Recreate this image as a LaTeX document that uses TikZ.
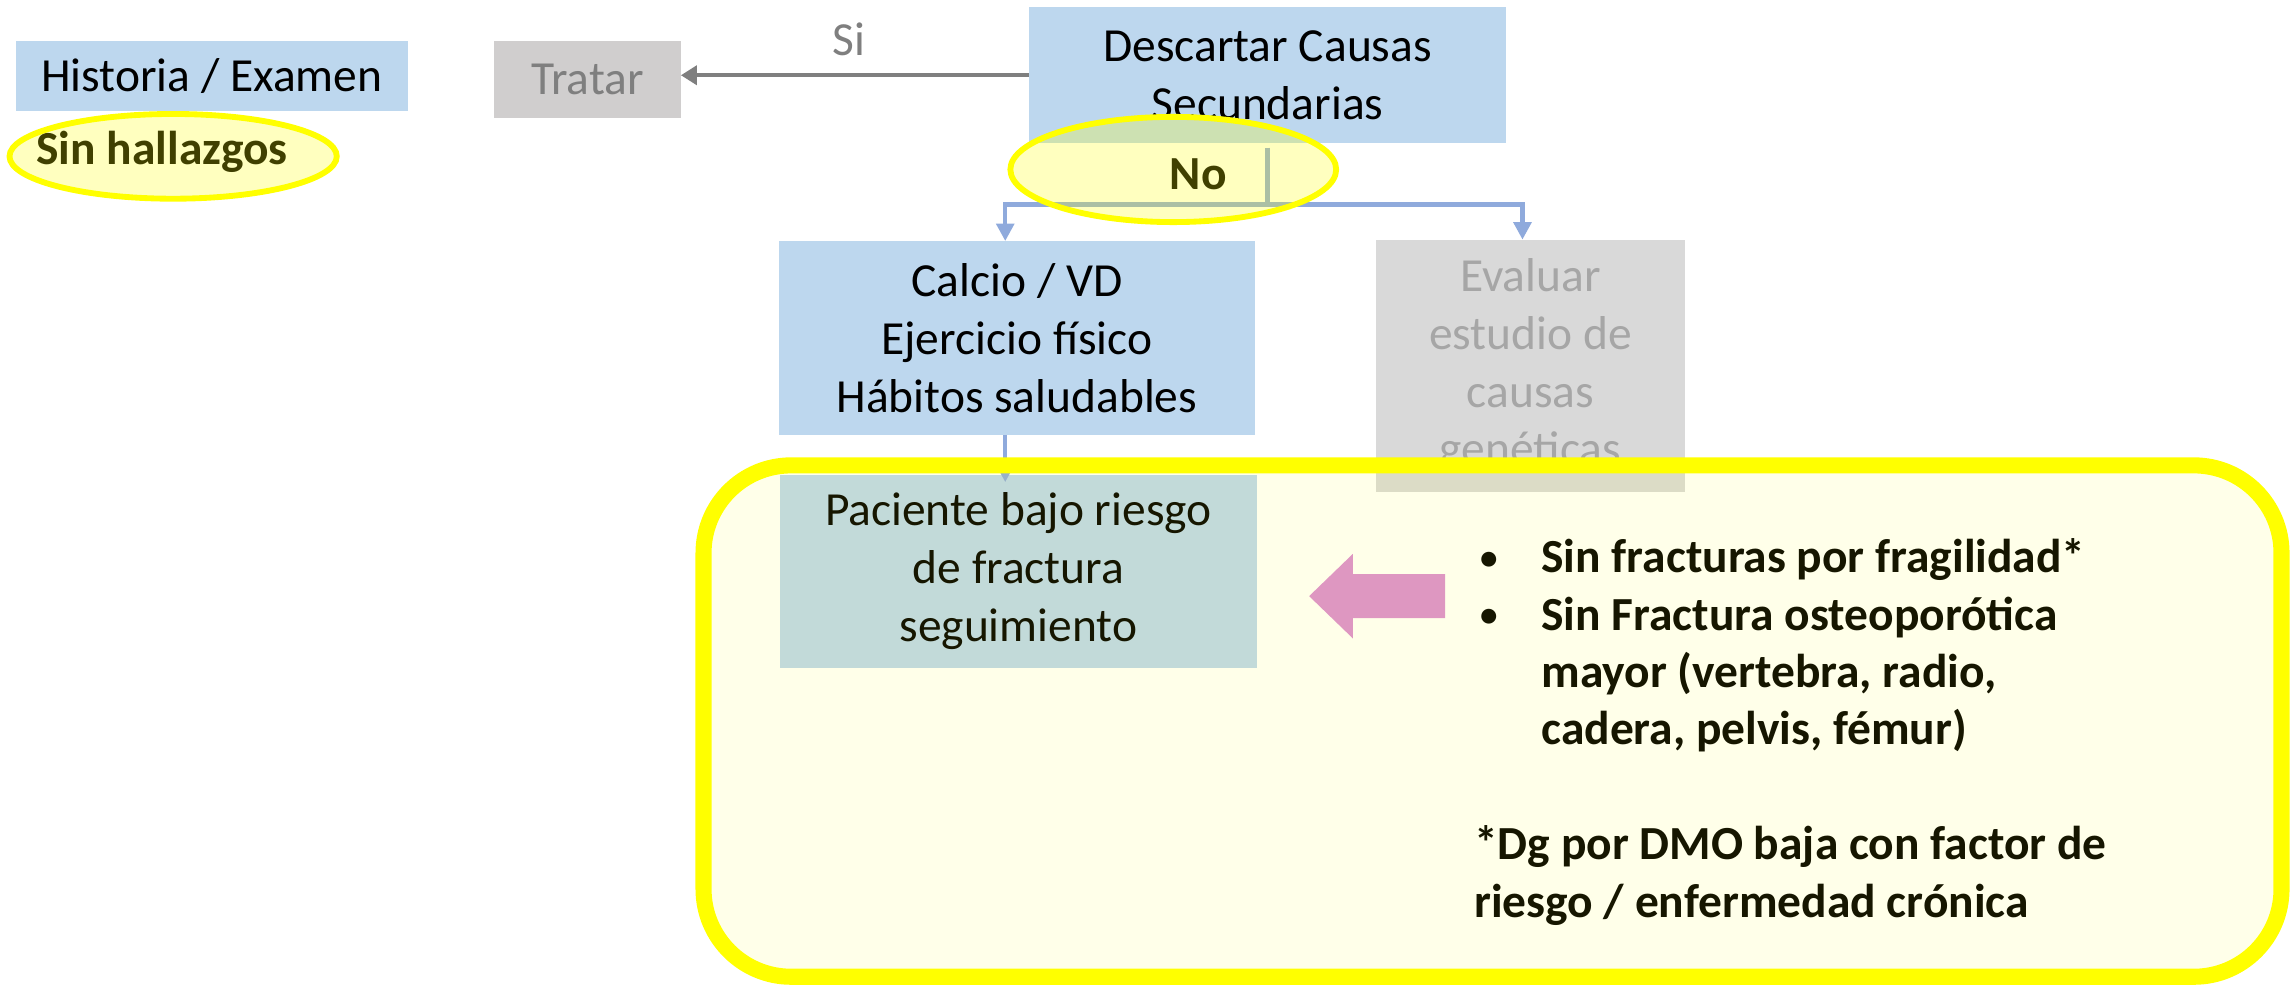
\documentclass[tikz,border=0pt]{standalone}
\usepackage{fontspec}
\setmainfont{Carlito}
\usetikzlibrary{arrows.meta,shapes.geometric}
\definecolor{boxblue}{HTML}{BDD7EE}
\definecolor{boxgray}{HTML}{D0CECE}
\definecolor{boxgrayB}{HTML}{D9D9D9}
\definecolor{txtgray}{HTML}{7F7F7F}
\definecolor{txtgrayB}{HTML}{A6A6A6}
\definecolor{connblue}{HTML}{8FAADC}
\definecolor{hiyellow}{HTML}{FFFF00}
\definecolor{pinkarrow}{HTML}{DE97C1}
\newcommand{\mybul}{\makebox[46pt][l]{\hspace{4pt}\raisebox{2.5pt}{\fontsize{24}{24}\selectfont •}}}
\begin{document}
\begin{tikzpicture}[x=1pt,y=-1pt,
  every node/.style={font=\fontsize{32.5}{39.5}\selectfont, inner sep=0pt, outer sep=0pt},
  boldtxt/.style={font=\fontsize{32.5}{39.3}\selectfont\bfseries},
  stepbox/.style={rectangle, align=center, fill=boxblue},
  conn/.style={draw=connblue, line width=3},
  conntip/.style={-{Triangle[length=12,width=12]}},
  hiell/.style={ellipse, draw=hiyellow, line width=4, fill=hiyellow, fill opacity=0.25}]
\useasboundingbox (0,0) rectangle (1568,675);

% top left
\node[stepbox, minimum width=268, minimum height=48] (historia) at (145,52) {Historia / Examen};
\node[boldtxt, anchor=west] (sinh) at (25,104) {Sin hallazgos};
\node[hiell, minimum width=224, minimum height=58] (sinhell) at (118.5,107) {};

% Tratar
\node[rectangle, fill=boxgray, text=txtgray, minimum width=128, minimum height=53] (tratar) at (402,54.5) {Tratar};
\node[text=txtgray] (si) at (581,27) {Si};

% Descartar
\node[stepbox, minimum width=327, minimum height=93] (descartar) at (867.5,51.5) {Descartar Causas\\Secundarias};
\draw[draw=txtgray, line width=3, -{Triangle[length=11,width=13]}] (descartar.west) -- (descartar.west -| tratar.east);

% connectors
\coordinate (jM) at (867.5,140);
\coordinate (jL) at (688,140);
\coordinate (jR) at (1042,140);

% Calcio and Evaluar
\node[stepbox, minimum width=326, minimum height=133] (calcio) at (696,231.5) {Calcio / VD\\Ejercicio físico\\Hábitos saludables};
\node[rectangle, align=center, fill=boxgrayB, text=txtgrayB, minimum width=211, minimum height=173] (evaluar) at (1047.5,250.5) {Evaluar\\estudio de\\causas\\genéticas};

\draw[conn] ([yshift=-3]descartar.south) -- (jM);
\draw[conn, conntip] (jM) -| (jL |- calcio.north);
\draw[conn, conntip] (jM) -| (jR |- evaluar.north);

\node[boldtxt] (no) at (820,119) {No};
\node[hiell, minimum width=223, minimum height=72] (noell) at (803,116) {};

% Paciente
\node[stepbox, minimum width=326, minimum height=132] (paciente) at (697,391) {Paciente bajo riesgo\\de fractura\\seguimiento};
\draw[conn, conntip] (jL |- calcio.south) -- ([yshift=-5]jL |- paciente.north);

% criteria text
\node[boldtxt, anchor=west, align=left] (criterios) at (1009,501) {%
\mybul Sin fracturas por fragilidad*\\
\mybul Sin Fractura osteoporótica\\
\hspace*{46pt}mayor (vertebra, radio,\\
\hspace*{46pt}cadera, pelvis, fémur)\\
\mbox{}\\
*Dg por DMO baja con factor de\\
riesgo / enfermedad crónica};

% yellow panel
\node[rectangle, rounded corners=60, draw=hiyellow, line width=11, fill=hiyellow, fill opacity=0.086, minimum width=1080, minimum height=350] (panel) at (1021.5,493.5) {};

% pink block arrow
\fill[pinkarrow] (896,408) -- (926,379) -- (926,393) -- (989,393) -- (989,423) -- (926,423) -- (926,437) -- cycle;
\end{tikzpicture}
\end{document}
